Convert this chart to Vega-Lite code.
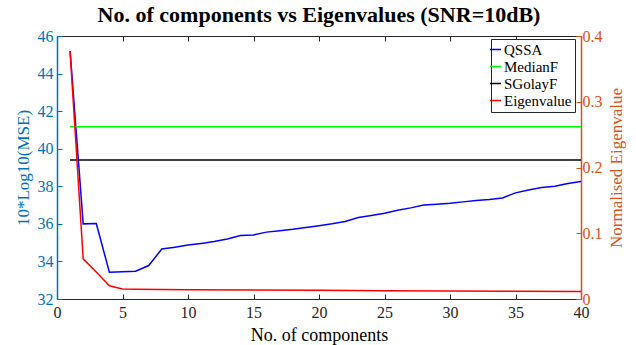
{
  "$schema": "https://vega.github.io/schema/vega-lite/v6.json",
  "width": 524,
  "height": 263,
  "autosize": {"type": "none"},
  "padding": {"left": 57, "top": 36, "right": 55, "bottom": 46},
  "background": "white",
  "config": {
    "font": "Liberation Serif",
    "view": {"stroke": null},
    "axis": {"labelFont": "Liberation Serif", "titleFont": "Liberation Serif"},
    "legend": {"labelFont": "Liberation Serif", "titleFont": "Liberation Serif"},
    "style": {
      "guide-label": {"font": "Liberation Serif"},
      "guide-title": {"font": "Liberation Serif"}
    }
  },
  "title": {
    "text": "No. of components vs Eigenvalues (SNR=10dB)",
    "font": "Liberation Serif",
    "fontSize": 22,
    "fontWeight": "bold",
    "color": "black",
    "offset": 1
  },
  "data": {
    "values": [
      {"x": 1, "series": "QSSA", "v": 45.2},
      {"x": 2, "series": "QSSA", "v": 36.0},
      {"x": 3, "series": "QSSA", "v": 36.02},
      {"x": 4, "series": "QSSA", "v": 33.42},
      {"x": 5, "series": "QSSA", "v": 33.45},
      {"x": 6, "series": "QSSA", "v": 33.48},
      {"x": 7, "series": "QSSA", "v": 33.78},
      {"x": 8, "series": "QSSA", "v": 34.66},
      {"x": 9, "series": "QSSA", "v": 34.76},
      {"x": 10, "series": "QSSA", "v": 34.87},
      {"x": 11, "series": "QSSA", "v": 34.96},
      {"x": 12, "series": "QSSA", "v": 35.06},
      {"x": 13, "series": "QSSA", "v": 35.19},
      {"x": 14, "series": "QSSA", "v": 35.38},
      {"x": 15, "series": "QSSA", "v": 35.41},
      {"x": 16, "series": "QSSA", "v": 35.56},
      {"x": 17, "series": "QSSA", "v": 35.63},
      {"x": 18, "series": "QSSA", "v": 35.71},
      {"x": 19, "series": "QSSA", "v": 35.81},
      {"x": 20, "series": "QSSA", "v": 35.9},
      {"x": 21, "series": "QSSA", "v": 36.0},
      {"x": 22, "series": "QSSA", "v": 36.13},
      {"x": 23, "series": "QSSA", "v": 36.34},
      {"x": 24, "series": "QSSA", "v": 36.45},
      {"x": 25, "series": "QSSA", "v": 36.57},
      {"x": 26, "series": "QSSA", "v": 36.72},
      {"x": 27, "series": "QSSA", "v": 36.85},
      {"x": 28, "series": "QSSA", "v": 37.0},
      {"x": 29, "series": "QSSA", "v": 37.05},
      {"x": 30, "series": "QSSA", "v": 37.1},
      {"x": 31, "series": "QSSA", "v": 37.17},
      {"x": 32, "series": "QSSA", "v": 37.24},
      {"x": 33, "series": "QSSA", "v": 37.3},
      {"x": 34, "series": "QSSA", "v": 37.38},
      {"x": 35, "series": "QSSA", "v": 37.65},
      {"x": 36, "series": "QSSA", "v": 37.8},
      {"x": 37, "series": "QSSA", "v": 37.93},
      {"x": 38, "series": "QSSA", "v": 38.0},
      {"x": 39, "series": "QSSA", "v": 38.15},
      {"x": 40, "series": "QSSA", "v": 38.25},
      {"x": 1, "series": "MedianF", "v": 41.17},
      {"x": 40, "series": "MedianF", "v": 41.17},
      {"x": 1, "series": "SGolayF", "v": 39.4},
      {"x": 40, "series": "SGolayF", "v": 39.4},
      {"x": 1, "series": "Eigenvalue", "v": 0.376},
      {"x": 2, "series": "Eigenvalue", "v": 0.061},
      {"x": 3, "series": "Eigenvalue", "v": 0.041},
      {"x": 4, "series": "Eigenvalue", "v": 0.02},
      {"x": 5, "series": "Eigenvalue", "v": 0.0152},
      {"x": 6, "series": "Eigenvalue", "v": 0.0149},
      {"x": 8, "series": "Eigenvalue", "v": 0.0146},
      {"x": 10, "series": "Eigenvalue", "v": 0.0142},
      {"x": 15, "series": "Eigenvalue", "v": 0.0137},
      {"x": 20, "series": "Eigenvalue", "v": 0.0132},
      {"x": 25, "series": "Eigenvalue", "v": 0.0127},
      {"x": 30, "series": "Eigenvalue", "v": 0.0122},
      {"x": 35, "series": "Eigenvalue", "v": 0.0118},
      {"x": 40, "series": "Eigenvalue", "v": 0.0114}
    ]
  },
  "layer": [
    {
      "transform": [{"filter": "datum.series !== 'Eigenvalue'"}],
      "mark": {"type": "line", "strokeWidth": 1.5, "clip": true},
      "encoding": {
        "x": {
          "field": "x", "type": "quantitative",
          "scale": {"domain": [0, 40], "nice": false, "zero": false},
          "axis": {
            "title": "No. of components", "titleFont": "Liberation Serif", "titleFontSize": 18, "titleFontWeight": "normal", "titleColor": "black", "titlePadding": 6,
            "values": [0, 5, 10, 15, 20, 25, 30, 35, 40],
            "labelFont": "Liberation Serif", "labelFontSize": 16, "labelColor": "#262626", "labelPadding": 10,
            "tickSize": -5, "tickColor": "#262626", "domainColor": "#262626", "grid": false,
            "labelFlush": false
          }
        },
        "y": {
          "field": "v", "type": "quantitative",
          "scale": {"domain": [32, 46], "nice": false, "zero": false},
          "axis": {
            "title": "10*Log10(MSE)", "titleFont": "Liberation Serif", "titleFontSize": 17, "titleFontWeight": "normal", "titleColor": "#0072BD", "titlePadding": 5,
            "values": [32, 34, 36, 38, 40, 42, 44, 46],
            "labelFont": "Liberation Serif", "labelFontSize": 16, "labelColor": "#0072BD", "labelPadding": 9,
            "tickSize": -5, "tickColor": "#0072BD", "domainColor": "#0072BD", "domainWidth": 1.5, "grid": false,
            "labelFlush": false
          }
        },
        "color": {
          "field": "series", "type": "nominal",
          "scale": {"domain": ["QSSA", "MedianF", "SGolayF", "Eigenvalue"], "range": ["#0000FF", "#00FF00", "#000000", "#FF0000"]},
          "legend": {
            "title": null, "orient": "none", "legendX": 434, "legendY": 3,
            "symbolType": "stroke", "symbolSize": 120, "symbolStrokeWidth": 1.5,
            "labelFont": "Liberation Serif", "labelFontSize": 15, "labelColor": "black", "labelOffset": 1,
            "fillColor": "white", "strokeColor": "#262626", "padding": 3, "rowPadding": 1,
            "symbolOffset": -6
          }
        },
        "detail": {"field": "series"}
      }
    },
    {
      "transform": [{"filter": "datum.series === 'Eigenvalue'"}],
      "mark": {"type": "line", "strokeWidth": 1.5, "clip": true},
      "encoding": {
        "x": {
          "field": "x", "type": "quantitative",
          "scale": {"domain": [0, 40], "nice": false, "zero": false},
          "axis": {
            "orient": "top", "title": null, "labels": false,
            "values": [0, 5, 10, 15, 20, 25, 30, 35, 40],
            "tickSize": -5, "tickColor": "#262626", "domainColor": "#262626", "grid": false
          }
        },
        "y": {
          "field": "v", "type": "quantitative",
          "scale": {"domain": [0, 0.4], "nice": false, "zero": false},
          "axis": {
            "orient": "right",
            "title": "Normalised Eigenvalue", "titleFont": "Liberation Serif", "titleFontSize": 17, "titleFontWeight": "normal", "titleColor": "#D95319", "titlePadding": 6, "titleAngle": -90, "titleBaseline": "top",
            "values": [0, 0.1, 0.2, 0.3, 0.4], "format": ".1~f",
            "labelFont": "Liberation Serif", "labelFontSize": 16, "labelColor": "#D95319", "labelPadding": 6,
            "tickSize": -5, "tickColor": "#D95319", "domainColor": "#D95319", "domainWidth": 1.5, "grid": false,
            "labelFlush": false
          }
        },
        "color": {"field": "series", "type": "nominal"}
      }
    }
  ],
  "resolve": {"scale": {"y": "independent"}, "axis": {"x": "independent"}}
}
